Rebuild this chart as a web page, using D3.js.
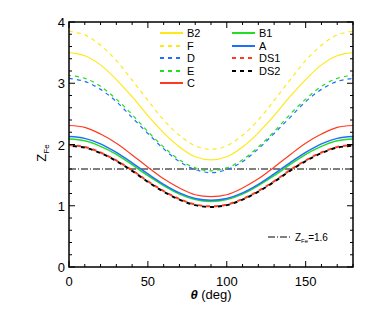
<!DOCTYPE html>
<html>
<head>
<meta charset="utf-8">
<script src="https://cdn.jsdelivr.net/npm/d3@7"></script>
<style>
  body { margin: 0; background: #fff; }
  svg { display: block; font-family: "Liberation Sans", Arial, sans-serif; }
</style>
</head>
<body>
<svg width="374" height="312"></svg>
<script>
// theta grid (deg)
var theta = [0, 10, 20, 30, 40, 50, 60, 70, 80, 90, 100, 110, 120, 130, 140, 150, 160, 170, 180];

// Z_Fe for each model
var zB2  = [3.50, 3.45, 3.30, 3.06, 2.78, 2.47, 2.19, 1.96, 1.80, 1.75, 1.80, 1.96, 2.19, 2.47, 2.78, 3.06, 3.30, 3.45, 3.50];
var zF   = [3.85, 3.79, 3.62, 3.37, 3.05, 2.72, 2.40, 2.15, 1.98, 1.92, 1.98, 2.15, 2.40, 2.72, 3.05, 3.37, 3.62, 3.79, 3.85];
var zD   = [3.08, 3.03, 2.90, 2.70, 2.44, 2.18, 1.93, 1.72, 1.59, 1.54, 1.59, 1.72, 1.93, 2.18, 2.44, 2.70, 2.90, 3.03, 3.08];
var zE   = [3.13, 3.08, 2.95, 2.74, 2.49, 2.21, 1.96, 1.75, 1.62, 1.57, 1.62, 1.75, 1.96, 2.21, 2.49, 2.74, 2.95, 3.08, 3.13];
var zC   = [2.31, 2.28, 2.17, 2.02, 1.83, 1.63, 1.44, 1.29, 1.18, 1.15, 1.18, 1.29, 1.44, 1.63, 1.83, 2.02, 2.17, 2.28, 2.31];
var zB1  = [2.09, 2.06, 1.97, 1.84, 1.67, 1.49, 1.33, 1.19, 1.10, 1.07, 1.10, 1.19, 1.33, 1.49, 1.67, 1.84, 1.97, 2.06, 2.09];
var zA   = [2.13, 2.10, 2.01, 1.87, 1.70, 1.52, 1.35, 1.21, 1.12, 1.09, 1.12, 1.21, 1.35, 1.52, 1.70, 1.87, 2.01, 2.10, 2.13];
var zDS1 = [1.99, 1.96, 1.87, 1.74, 1.58, 1.40, 1.24, 1.11, 1.02, 0.99, 1.02, 1.11, 1.24, 1.40, 1.58, 1.74, 1.87, 1.96, 1.99];
var zDS2 = [1.98, 1.95, 1.86, 1.73, 1.57, 1.39, 1.23, 1.10, 1.01, 0.98, 1.01, 1.10, 1.23, 1.39, 1.57, 1.73, 1.86, 1.95, 1.98];

var zRef = 1.6;

var xTicks = [0, 50, 100, 150];
var yTicks = [0, 1, 2, 3, 4];

var YEL = '#ffe81a', BLU = '#1f6fff', GRN = '#22dd22', RED = '#ff3b1f';

// draw order + styles
var series = [
    {name: 'B2',  z: zB2,  color: YEL, dash: null,  w: 1.2},
    {name: 'F',   z: zF,   color: YEL, dash: '4,4', w: 1.2},
    {name: 'D',   z: zD,   color: BLU, dash: '4,4', w: 1.2},
    {name: 'E',   z: zE,   color: GRN, dash: '4,4', w: 1.2, off: 2},
    {name: 'C',   z: zC,   color: RED, dash: null,  w: 1.2},
    {name: 'B1',  z: zB1,  color: GRN, dash: null,  w: 1.5},
    {name: 'A',   z: zA,   color: BLU, dash: null,  w: 1.5},
    {name: 'DS1', z: zDS1, color: RED, dash: '4,4', w: 2},
    {name: 'DS2', z: zDS2, color: '#000', dash: '4,4', w: 2, off: 4}
];

// plot box (named to avoid clashing with window.top)
var pLeft = 69, pRight = 353, pTop = 22, pBottom = 267;

var svg = d3.select('svg');

var xScale = d3.scaleLinear().domain([0, 180]).range([pLeft, pRight]);
var yScale = d3.scaleLinear().domain([0, 4]).range([pBottom, pTop]);

var plotG = svg.append('g');

var line = d3.line()
    .x(function(d) { return xScale(d[0]); })
    .y(function(d) { return yScale(d[1]); })
    .curve(d3.curveCatmullRom);

// reference line Z_Fe = 1.6
plotG.append('line')
    .attr('x1', xScale(0)).attr('x2', xScale(180))
    .attr('y1', yScale(zRef)).attr('y2', yScale(zRef))
    .attr('stroke', '#000')
    .attr('stroke-width', 1)
    .attr('stroke-dasharray', '7,2,1,2');

series.forEach(function(s) {
    plotG.append('path')
        .datum(theta.map(function(t, i) { return [t, s.z[i]]; }))
        .attr('d', line)
        .attr('fill', 'none')
        .attr('stroke', s.color)
        .attr('stroke-width', s.w)
        .attr('stroke-dasharray', s.dash)
        .attr('stroke-dashoffset', s.off || 0);
});

// axes, IDL style: ticks inside on all four sides
function tickLen(major) { return major ? 6 : 3; }

var axes = svg.append('g');

axes.append('rect')
    .attr('x', pLeft).attr('y', pTop)
    .attr('width', pRight - pLeft).attr('height', pBottom - pTop)
    .attr('fill', 'none').attr('stroke', '#000').attr('stroke-width', 1.5);

d3.range(0, 181, 10).forEach(function(v) {
    var major = v % 50 === 0;
    var x = xScale(v), L = tickLen(major);
    axes.append('line').attr('x1', x).attr('x2', x).attr('y1', pBottom).attr('y2', pBottom - L)
        .attr('stroke', '#000');
    axes.append('line').attr('x1', x).attr('x2', x).attr('y1', pTop).attr('y2', pTop + L)
        .attr('stroke', '#000');
});
d3.range(0, 4.001, 0.2).forEach(function(v) {
    var major = Math.abs(v - Math.round(v)) < 1e-6;
    var y = yScale(v), L = tickLen(major);
    axes.append('line').attr('x1', pLeft).attr('x2', pLeft + L).attr('y1', y).attr('y2', y)
        .attr('stroke', '#000');
    axes.append('line').attr('x1', pRight).attr('x2', pRight - L).attr('y1', y).attr('y2', y)
        .attr('stroke', '#000');
});

axes.selectAll('.xlab').data(xTicks).enter().append('text')
    .attr('class', 'xlab')
    .attr('x', function(d) { return xScale(d); })
    .attr('y', 286)
    .attr('text-anchor', 'middle')
    .attr('font-size', 13)
    .text(function(d) { return d; });

axes.selectAll('.ylab').data(yTicks).enter().append('text')
    .attr('class', 'ylab')
    .attr('x', 65)
    .attr('y', function(d) { return yScale(d) + 5; })
    .attr('text-anchor', 'end')
    .attr('font-size', 13)
    .text(function(d) { return d; });

// axis titles
var xt = axes.append('text')
    .attr('x', 211).attr('y', 299)
    .attr('text-anchor', 'middle')
    .attr('font-size', 13);
xt.append('tspan').attr('font-weight', 'bold').attr('font-style', 'italic').text('\u03b8');
xt.append('tspan').text(' (deg)');

var yt = axes.append('text')
    .attr('transform', 'translate(46,153) rotate(-90)')
    .attr('text-anchor', 'middle')
    .attr('font-size', 13);
yt.append('tspan').text('Z');
yt.append('tspan').attr('font-size', 8).attr('dy', 3).text('Fe');

// legend
var legendRows = [
    {s: series[0], x: 160, y: 33},
    {s: series[1], x: 160, y: 46},
    {s: series[2], x: 160, y: 58},
    {s: series[3], x: 160, y: 71},
    {s: series[4], x: 160, y: 83},
    {s: series[5], x: 232, y: 33},
    {s: series[6], x: 232, y: 46},
    {s: series[7], x: 232, y: 58},
    {s: series[8], x: 232, y: 71}
];
var legG = svg.append('g');
legendRows.forEach(function(r) {
    legG.append('line')
        .attr('x1', r.x).attr('x2', r.x + 23)
        .attr('y1', r.y).attr('y2', r.y)
        .attr('stroke', r.s.color)
        .attr('stroke-width', 2)
        .attr('stroke-dasharray', r.s.dash ? '4,4' : null);
    legG.append('text')
        .attr('x', r.x + 27).attr('y', r.y + 4)
        .attr('font-size', 11)
        .text(r.s.name);
});

legG.append('line')
    .attr('x1', 268).attr('x2', 291)
    .attr('y1', 237).attr('y2', 237)
    .attr('stroke', '#000')
    .attr('stroke-dasharray', '7,2,1,2');
var rt = legG.append('text')
    .attr('x', 295).attr('y', 241)
    .attr('font-size', 10);
rt.append('tspan').text('Z');
rt.append('tspan').attr('font-size', 6).attr('dy', 2).text('Fe');
rt.append('tspan').attr('dy', -2).text('=1.6');
</script>
</body>
</html>
